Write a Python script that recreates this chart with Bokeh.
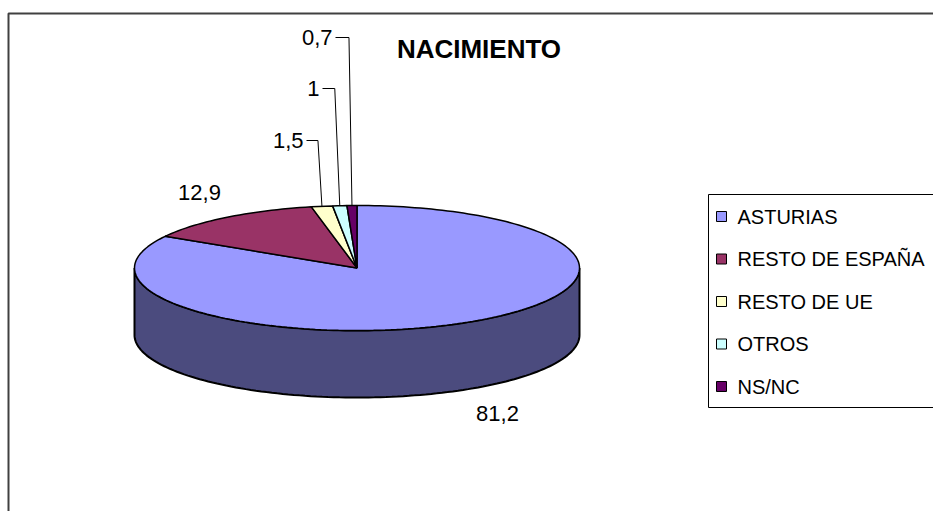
import math
from bokeh.plotting import figure
from bokeh.models import Range1d, ColumnDataSource
from bokeh.core.properties import value
from bokeh.embed import file_html
from bokeh.resources import INLINE

# ---- data ----
categories = ["ASTURIAS", "RESTO DE ESPAÑA", "RESTO DE UE", "OTROS", "NS/NC"]
values = [81.2, 12.9, 1.5, 1.0, 0.7]
value_labels = ["81,2", "12,9", "1,5", "1", "0,7"]
colors = ["#9999FF", "#993366", "#FFFFCC", "#CCFFFF", "#660066"]
side_colors = ["#4B4B7E", "#4D1A33", "#808066", "#668080", "#330033"]
title_text = "NACIMIENTO"

# ---- layout (pixel space) ----
W, H = 933, 511
cx, cy, rx, ry, depth = 356.5, 267.5, 222.5, 62.5, 67
FONT = "Liberation Sans"

p = figure(width=W, height=H, x_range=Range1d(0, W), y_range=Range1d(H, 0),
           output_backend="svg", toolbar_location=None, min_border=0,
           background_fill_color="white", border_fill_color="white")
p.axis.visible = False
p.grid.visible = False
p.outline_line_color = None

def pt(theta_deg, dy=0.0):
    t = math.radians(theta_deg)
    return cx + rx * math.sin(t), cy - ry * math.cos(t) + dy

# outer chart frame (extends beyond the window)
p.line([8, 8, W + 20], [H + 20, 13, 13], line_color="#404040", line_width=2)

# slice angles (clockwise from 12 o'clock)
total = sum(values)
starts, ends = [], []
a = 0.0
for v in values:
    starts.append(a)
    a += v / total * 360.0
    ends.append(a)

# side wall (front half, 90..270 deg) split by slice
side_xs, side_ys, side_fc = [], [], []
for s, e, c in zip(starts, ends, side_colors):
    lo, hi = max(s, 90.0), min(e, 270.0)
    if hi <= lo:
        continue
    n = max(4, int((hi - lo) / 1.5))
    top = [pt(lo + (hi - lo) * i / n) for i in range(n + 1)]
    bot = [pt(hi - (hi - lo) * i / n, depth) for i in range(n + 1)]
    poly = top + bot
    side_xs.append([q[0] for q in poly])
    side_ys.append([q[1] for q in poly])
    side_fc.append(c)
p.patches(side_xs, side_ys, fill_color=side_fc, line_color="black", line_width=2)

# top faces
top_xs, top_ys = [], []
for s, e in zip(starts, ends):
    n = max(3, int((e - s) / 1.5))
    arc = [pt(s + (e - s) * i / n) for i in range(n + 1)]
    poly = [(cx, cy)] + arc
    top_xs.append([q[0] for q in poly])
    top_ys.append([q[1] for q in poly])
p.patches(top_xs, top_ys, fill_color=colors, line_color="black", line_width=1.5)

# data labels
lab_pos = {  # label placement: (x, y, align)
    0: (497, 413, "center"),
    1: (199, 192, "center"),
    2: (303, 140, "right"),
    3: (319, 88, "right"),
    4: (332, 37, "right"),
}
elbow_off = {2: 4, 3: 5, 4: 3}
lx, ly, lt, la = [], [], [], []
for i, lab in enumerate(value_labels):
    x, y, al = lab_pos[i]
    lx.append(x); ly.append(y); lt.append(lab); la.append(al)
    if i in elbow_off:
        mid = (starts[i] + ends[i]) / 2.0
        ax, ay = pt(mid)
        ex = ax - elbow_off[i]
        p.line([x + 3, ex, ax], [y, y, ay], line_color="black", line_width=1)
src = ColumnDataSource(dict(x=lx, y=ly, t=lt, a=la))
p.text(x="x", y="y", text="t", text_align="a", text_baseline="middle",
       text_font=value(FONT), text_font_size="22px", text_color="black", source=src)

# title
p.text(x=[478.5], y=[48.5], text=[title_text], text_align="center", text_baseline="middle",
       text_font=value(FONT), text_font_size="26px", text_font_style="bold",
       text_color="black")

# legend box
p.quad(left=[708], right=[W + 20], top=[194], bottom=[407],
       fill_color="white", line_color="black", line_width=1)
row_y = [216 + 42.5 * i for i in range(len(categories))]
p.scatter(x=[721] * len(categories), y=row_y, marker="square", size=10,
          fill_color=colors, line_color="black", line_width=1)
p.text(x=[737] * len(categories), y=row_y, text=categories, text_align="left",
       text_baseline="middle", text_font=value(FONT), text_font_size="20px",
       text_color="black")

open("out.html", "w").write(file_html(p, INLINE))
